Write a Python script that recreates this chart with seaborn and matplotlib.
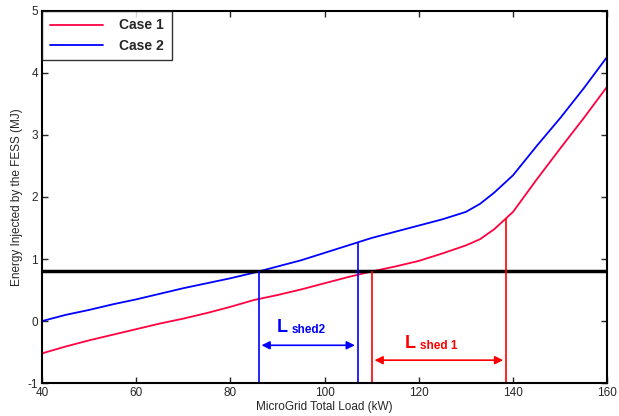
import numpy as np
import pandas as pd
import seaborn as sns
import matplotlib.pyplot as plt

# data
load_kw = [40, 45, 50, 55, 60, 65, 70, 75, 80, 85, 90, 95, 100, 105, 110,
           115, 120, 125, 130, 133, 136, 140, 145, 150, 155, 160]
case1 = [-0.52, -0.41, -0.31, -0.22, -0.13, -0.04, 0.04, 0.13, 0.23, 0.34, 0.42, 0.51,
         0.61, 0.71, 0.80, 0.88, 0.97, 1.09, 1.22, 1.32, 1.48, 1.76, 2.28, 2.78, 3.27, 3.78]
case2 = [0.00, 0.10, 0.18, 0.27, 0.35, 0.44, 0.53, 0.61, 0.69, 0.78, 0.88, 0.98,
         1.10, 1.22, 1.34, 1.44, 1.54, 1.64, 1.76, 1.89, 2.07, 2.35, 2.82, 3.27, 3.75, 4.26]
threshold = 0.8
shed2 = [86, 107]
shed1 = [110, 138.5]

sns.set_style("ticks")
plt.rcParams['font.family'] = ['Liberation Sans', 'DejaVu Sans']
plt.rcParams['axes.unicode_minus'] = False

df = pd.DataFrame({
    "load": load_kw * 2,
    "energy": case1 + case2,
    "case": ["Case 1"] * len(load_kw) + ["Case 2"] * len(load_kw),
})

fig = plt.figure(figsize=(6.19, 4.16), dpi=100)
ax = fig.add_axes([0.068, 0.079, 0.913, 0.895])

sns.lineplot(data=df, x="load", y="energy", hue="case",
             palette={"Case 1": "#ff0040", "Case 2": "#0000ff"}, lw=1.3, ax=ax)

ax.axhline(threshold, color="black", lw=2.5)

# shed boundaries
ax.vlines(shed2[0], -1, threshold, color="blue", lw=1.2)
ax.vlines(shed2[1], -1, np.interp(shed2[1], load_kw, case2), color="blue", lw=1.2)
ax.vlines(shed1[0], -1, threshold, color="red", lw=1.2)
ax.vlines(shed1[1], -1, np.interp(shed1[1], load_kw, case1), color="red", lw=1.2)

# arrows
ax.annotate("", xy=(shed2[0], -0.39), xytext=(shed2[1], -0.39),
            arrowprops=dict(arrowstyle="<|-|>", color="blue", lw=1.2, mutation_scale=12))
ax.annotate("", xy=(shed1[0], -0.63), xytext=(shed1[1], -0.63),
            arrowprops=dict(arrowstyle="<|-|>", color="red", lw=1.2, mutation_scale=12))

mid2 = np.mean(shed2)
mid1 = np.mean(shed1)
ax.text(mid2 - 5.5, -0.17, "L", color="blue", fontsize=13, fontweight="bold", ha="center")
ax.text(mid2 - 3.5, -0.19, "shed2", color="blue", fontsize=8.5, fontweight="bold", ha="left")
ax.text(mid1 - 6, -0.43, "L", color="red", fontsize=13, fontweight="bold", ha="center")
ax.text(mid1 - 4, -0.45, "shed 1", color="red", fontsize=8.5, fontweight="bold", ha="left")

ax.set_xlim(40, 160)
ax.set_ylim(-1, 5)
ax.set_xticks(range(40, 161, 20))
ax.set_yticks(range(-1, 6))
ax.tick_params(direction="in", top=True, right=True, labelsize=8.5, length=4, width=1, pad=3)
for s in ax.spines.values():
    s.set_linewidth(1.5)
    s.set_color("black")

ax.set_xlabel("MicroGrid Total Load (kW)", fontsize=8.5, labelpad=1)
ax.set_ylabel("Energy Injected by the FESS (MJ)", fontsize=8.5, labelpad=3)

leg = ax.legend(loc="upper left", fontsize=10, frameon=True, fancybox=False,
                borderaxespad=0, borderpad=0.55, labelspacing=0.45,
                handlelength=3.8, handletextpad=1.2)
leg.get_frame().set_edgecolor("black")
leg.get_frame().set_linewidth(1)
for t in leg.get_texts():
    t.set_fontweight("bold")

fig.savefig("out.png", dpi=100)
